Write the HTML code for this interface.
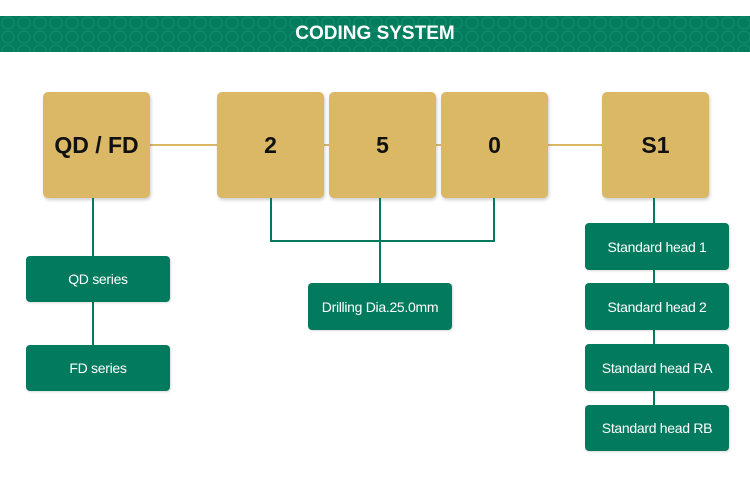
<!DOCTYPE html>
<html><head><style>
body{margin:0;width:750px;height:482px;background:#fff;position:relative;overflow:hidden;font-family:"Liberation Sans",Arial,sans-serif}
.a{position:absolute}
.ban{left:0;top:16px;width:750px;height:36px;background:#047c5e;background-image:radial-gradient(circle at 50% 50%, transparent 5px, rgba(60,200,150,.25) 6px, transparent 7px);background-size:16px 14px}
.ban span{position:absolute;left:0;right:0;top:0;line-height:36px;text-align:center;color:#fff;font-weight:bold;font-size:19px}
.g{background:#dab866;border-radius:5px;box-shadow:1px 2px 3px rgba(0,0,0,.2);width:107px;height:106px;top:92px;display:flex;align-items:center;justify-content:center;font-weight:bold;font-size:23px;color:#111}
.k{background:#027a5e;border-radius:4px;color:#fff;font-size:14px;display:flex;align-items:center;justify-content:center;box-shadow:1px 1px 2px rgba(0,0,0,.15);letter-spacing:-0.3px}
.lg{background:#dab866}
.lk{background:#027a5e}
</style></head><body>
<div class="a ban"><span>CODING SYSTEM</span></div>
<div class="a lg" style="left:150px;top:144px;width:67px;height:2px"></div>
<div class="a lg" style="left:548px;top:144px;width:54px;height:2px"></div>
<div class="a lg" style="left:324px;top:144px;width:117px;height:2px"></div>
<div class="a g" style="left:43px">QD / FD</div>
<div class="a g" style="left:217px">2</div>
<div class="a g" style="left:329px">5</div>
<div class="a g" style="left:441px">0</div>
<div class="a g" style="left:602px">S1</div>
<div class="a lk" style="left:92px;top:198px;width:2px;height:150px"></div>
<div class="a lk" style="left:270px;top:198px;width:2px;height:44px"></div>
<div class="a lk" style="left:379px;top:198px;width:2px;height:86px"></div>
<div class="a lk" style="left:493px;top:198px;width:2px;height:44px"></div>
<div class="a lk" style="left:270px;top:240px;width:225px;height:2px"></div>
<div class="a lk" style="left:653px;top:198px;width:2px;height:210px"></div>
<div class="a k" style="left:26px;top:256px;width:144px;height:46px">QD series</div>
<div class="a k" style="left:26px;top:345px;width:144px;height:46px">FD series</div>
<div class="a k" style="left:308px;top:283px;width:144px;height:47px">Drilling Dia.25.0mm</div>
<div class="a k" style="left:585px;top:223px;width:144px;height:47px">Standard head 1</div>
<div class="a k" style="left:585px;top:283px;width:144px;height:47px">Standard head 2</div>
<div class="a k" style="left:585px;top:344px;width:144px;height:47px">Standard head RA</div>
<div class="a k" style="left:585px;top:405px;width:144px;height:46px">Standard head RB</div>
</body></html>
